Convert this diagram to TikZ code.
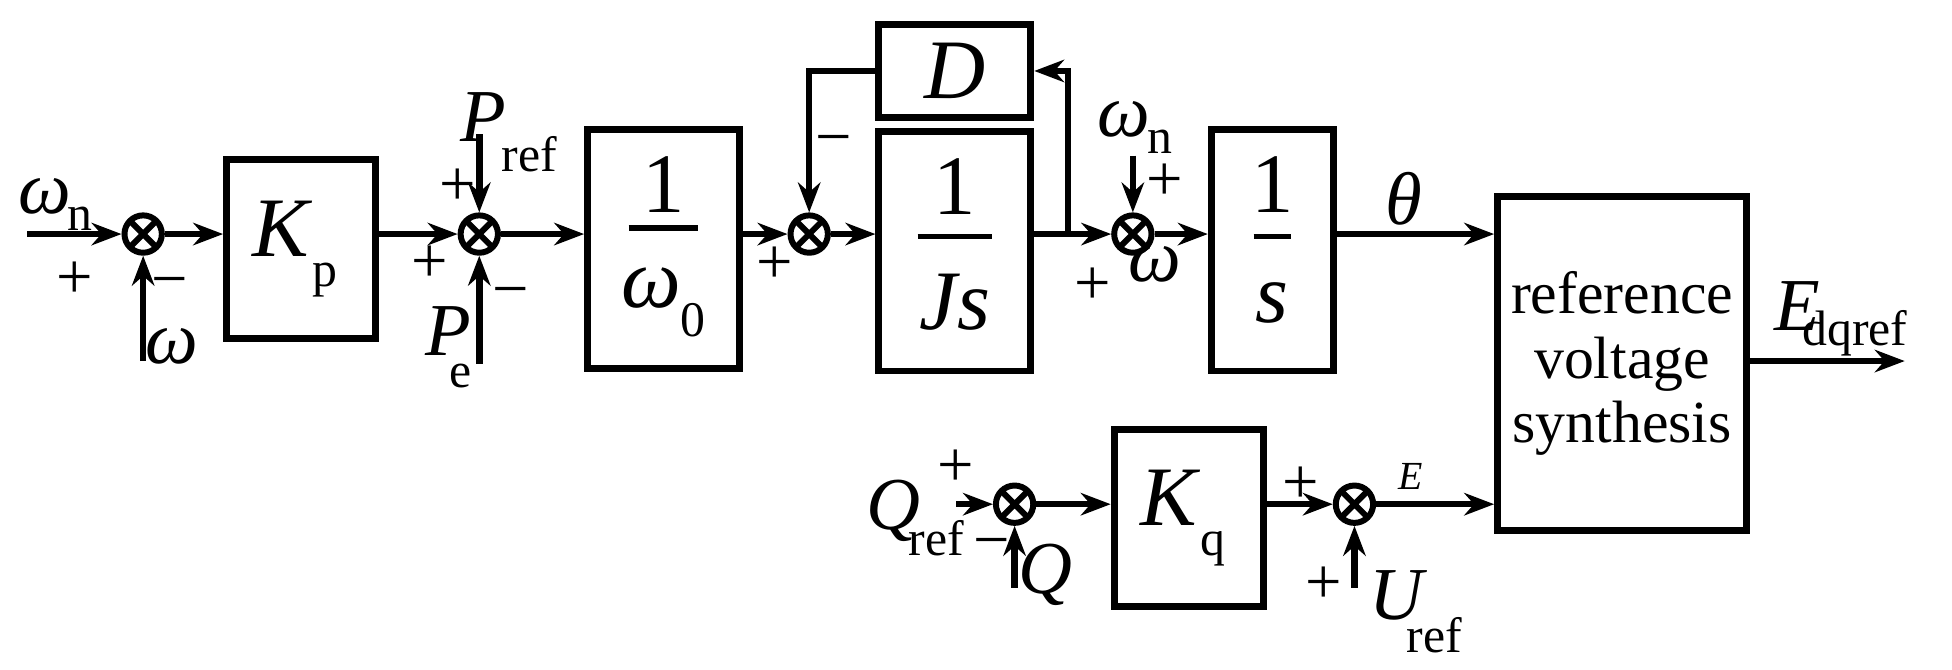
\documentclass[tikz,border=0pt]{standalone}
\usepackage{fontspec}
\setmainfont{Liberation Serif}
\usetikzlibrary{arrows.meta}
\begin{document}
\begin{tikzpicture}[x=0.5pt,y=-0.5pt,
  line width=2.6pt,
  >={Stealth[length=12pt,width=9pt]},
  blk/.style={draw,line width=2.8pt,rectangle,inner sep=0pt},
  sum/.style={draw,circle,line width=2.4pt,minimum size=15pt,inner sep=0pt,
    path picture={\draw[line width=2.4pt] (path picture bounding box.north east)--(path picture bounding box.south west)
      (path picture bounding box.north west)--(path picture bounding box.south east);}},
  big/.style={font=\fontsize{34}{36}\selectfont},
  lab/.style={font=\fontsize{30}{32}\selectfont\itshape,inner sep=0pt},
  sub/.style={font=\fontsize{20}{22}\selectfont,inner sep=0pt},
  sg/.style={font=\fontsize{26}{28}\selectfont,inner sep=0pt}]
\useasboundingbox (0,0) rectangle (1568,538);
% sums
\node[sum] (s1) at (115,188) {};
\node[sum] (s2) at (385,188) {};
\node[sum] (s3) at (650,188) {};
\node[sum] (s4) at (910,188) {};
\node[sum] (s5) at (815,405) {};
\node[sum] (s6) at (1088,405) {};
% blocks
\node[blk,minimum width=60pt,minimum height=72pt] (kp) at (242,200) {};
\node[big,inner sep=0pt] (kpt) at (237,200) {\textit{K}\raisebox{-0.35em}{\fontsize{20}{22}\selectfont p}};
\node[blk,minimum width=61pt,minimum height=96pt] (w0) at (533,200) {};
\node[big] (w0a) at (533,148) {1};
\draw[line width=2.2pt] (505,183) -- (561,183);
\node[big] (w0b) at (533,243) {\textit{ω}\raisebox{-0.35em}{\fontsize{20}{22}\selectfont 0}};
\node[blk,minimum width=61pt,minimum height=37pt] (D) at (767,57) {};
\node[big] (Dt) at (767,57) {\textit{D}};
\node[blk,minimum width=61pt,minimum height=96pt] (Js) at (767,202) {};
\node[big] (Jsa) at (767,150) {1};
\draw[line width=2.2pt] (737,190) -- (797,190);
\node[big] (Jsb) at (767,243) {\textit{Js}};
\node[blk,minimum width=49pt,minimum height=97pt] (sb) at (1022,201) {};
\node[big] (sba) at (1022,148) {1};
\draw[line width=2.2pt] (1007,190) -- (1037,190);
\node[big] (sbb) at (1022,243) {\textit{s}};
\node[blk,minimum width=100pt,minimum height=134pt,align=center,
  font=\fontsize{24}{26}\selectfont] (syn) at (1303,292) {reference\\voltage\\synthesis};
\node[blk,minimum width=60pt,minimum height=71pt] (kq) at (955,416) {};
\node[big] (kqt) at (950,416) {\textit{K}\raisebox{-0.35em}{\fontsize{20}{22}\selectfont q}};
% coordinates
\coordinate (in1) at (22,188);
\coordinate (w1) at (115,290);
\coordinate (pr) at (385,108);
\coordinate (pe) at (385,292);
\coordinate (br) at (858,188);
\coordinate (wn2) at (910,125);
\coordinate (eout) at (1530,290);
\coordinate (qin) at (768,405);
\coordinate (qb) at (815,472);
\coordinate (ub) at (1088,472);
% connectors
\draw[->] (in1) -- (s1.west);
\draw[->] (w1) -- (s1.south);
\draw[->] (s1.east) -- (kp.west |- s1);
\draw[->] (kp.east |- s2) -- (s2.west);
\draw[->] (pr) -- (s2.north);
\draw[->] (pe) -- (s2.south);
\draw[->] (s2.east) -- (w0.west |- s2);
\draw[->] (w0.east |- s3) -- (s3.west);
\draw[->] (s3.east) -- (Js.west |- s3);
\draw[->] (Js.east |- s4) -- (s4.west);
\draw[->] (br) |- (D.east);
\draw[->] (D.west) -| (s3.north);
\draw[->] (wn2) -- (s4.north);
\draw[->] (s4.east) -- (sb.west |- s4);
\draw[->] (sb.east |- s4) -- (syn.west |- s4);
\draw[->] (syn.east |- eout) -- (eout);
\draw[->] (qin) -- (s5.west);
\draw[->] (qb) -- (s5.south);
\draw[->] (s5.east) -- (kq.west |- s5);
\draw[->] (kq.east |- s6) -- (s6.west);
\draw[->] (ub) -- (s6.south);
\draw[->] (s6.east) -- (syn.west |- s6);
% labels
\node[lab] (l1) at (36,158) {ω};
\node[sub] (l1s) at (64,176) {n};
\node[sg] (p1) at (60,225) {+};
\node[sg] (m1) at (136,232) {−};
\node[lab] (l2) at (138,278) {ω};
\node[sg] (p2) at (345,212) {+};
\node[lab] (l3) at (388,94) {P};
\node[sub] (l3s) at (425,124) {ref};
\node[sg] (p3) at (368,150) {+};
\node[lab] (l4) at (360,266) {P};
\node[sub] (l4s) at (370,302) {e};
\node[sg] (m4) at (410,240) {−};
\node[sg] (p5) at (622,213) {+};
\node[sg] (m5) at (670,118) {−};
\node[lab] (l6) at (903,96) {ω};
\node[sub] (l6s) at (932,114) {n};
\node[sg] (p6) at (936,146) {+};
\node[sg] (p7) at (878,230) {+};
\node[lab] (l7) at (928,212) {ω};
\node[lab] (l8) at (1128,160) {θ};
\node[lab] (l9) at (1444,246) {E};
\node[sub] (l9s) at (1490,268) {dqref};
\node[lab] (l10) at (718,410) {Q};
\node[sub] (l10s) at (752,432) {ref};
\node[sg] (p10) at (768,376) {+};
\node[sg] (m10) at (797,442) {−};
\node[lab] (l11) at (840,462) {Q};
\node[sg] (p11) at (1045,390) {+};
\node[lab,font=\fontsize{16}{18}\selectfont\itshape] (l12) at (1133,383) {E};
\node[sg] (p12) at (1063,470) {+};
\node[lab] (l13) at (1122,478) {U};
\node[sub] (l13s) at (1152,510) {ref};
\end{tikzpicture}
\end{document}
